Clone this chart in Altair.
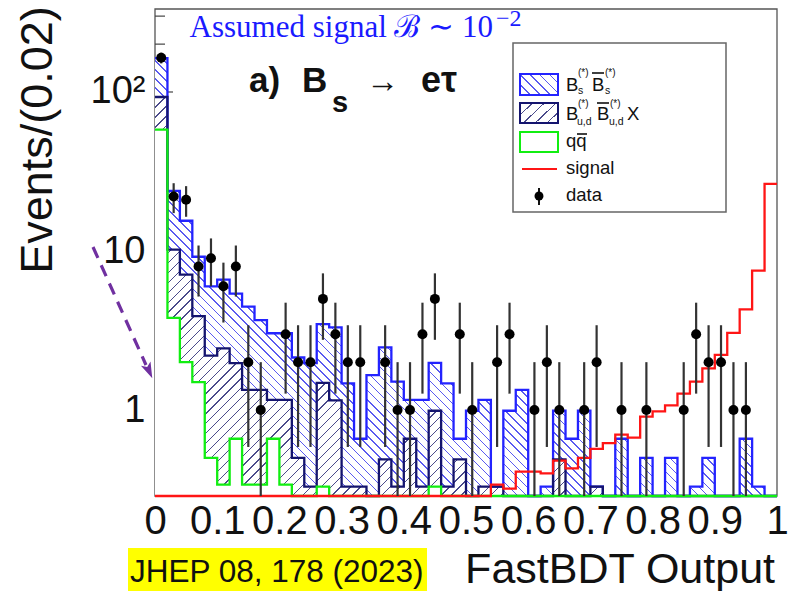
import math
import altair as alt
import pandas as pd

# ---------------- data ----------------
bin_width = 0.02
n_bins = 50
bin_edges = [round(i * bin_width, 2) for i in range(n_bins + 1)]
bin_centers = [round((i + 0.5) * bin_width, 3) for i in range(n_bins)]

data_counts = [164, 22, 21, 8, 9, 6, 8, 2, 1, 0,
               3, 2, 2, 5, 3, 2, 2, 0, 2, 1,
               1, 3, 5, 0, 3, 1, 0, 2, 3, 0,
               1, 2, 1, 0, 1, 2, 0, 1, 0, 1,
               0, 0, 1, 3, 2, 2, 1, 1, 0, 0]

# cumulative stack: qq + BuBd + BsBs
stack_total = [163, 23.9, 15.5, 9.2, 6.0, 6.6, 5.4, 4.47, 3.68, 3.04,
               3.04, 2.14, 1.97, 3.47, 3.31, 1.47, 0.66, 1.66, 2.48, 1.51,
               1.16, 1.16, 1.98, 1.47, 0.66, 0.99, 1.16, 0.33, 0.99, 1.34,
               0, 0.33, 0.99, 0.66, 0.99, 0.33, 0, 0.66, 0, 0.50,
               0, 0.50, 0, 0.33, 0.50, 0, 0, 0.66, 0.33, 0]
# cumulative stack: qq + BuBd
stack_bud = [93, 10.2, 7.1, 3.9, 2.2, 2.44, 1.97, 1.34, 1.34, 1.16,
             1.16, 0.50, 0.33, 1.48, 1.15, 0.33, 0.33, 0, 0.49, 0.33,
             0.66, 0.33, 0.99, 0.33, 0.49, 0, 0.33, 0.33, 0, 0,
             0, 0, 0.49, 0, 0, 0.33, 0, 0, 0, 0,
             0, 0, 0, 0, 0, 0, 0, 0, 0, 0]
# qq only
stack_qq = [58, 3.8, 2.0, 1.5, 0.5, 0.34, 0.66, 0.34, 0.34, 0.66,
            0.34, 0, 0, 0.33, 0, 0, 0, 0, 0, 0,
            0, 0, 0.33, 0, 0, 0, 0, 0, 0, 0,
            0, 0, 0, 0, 0, 0, 0, 0, 0, 0,
            0, 0, 0, 0, 0, 0, 0, 0, 0, 0]
# signal (B = 1e-2)
signal = [0, 0, 0, 0, 0, 0, 0, 0, 0, 0,
          0, 0, 0, 0, 0, 0, 0, 0, 0, 0,
          0, 0, 0, 0, 0, 0, 0, 0.34, 0.32, 0.41,
          0.41, 0.40, 0.48, 0.43, 0.50, 0.57, 0.62, 0.70, 0.67, 0.91,
          0.98, 1.07, 1.27, 1.51, 1.83, 2.22, 3.06, 4.30, 7.52, 26.4]

x_tick_values = [0, 0.1, 0.2, 0.3, 0.4, 0.5, 0.6, 0.7, 0.8, 0.9, 1.0]
y_label_values = [1, 10, 100]
y_minor_ticks = [0.3, 0.4, 0.5, 0.6, 0.7, 0.8, 0.9, 2, 3, 4, 5, 6, 7, 8, 9,
                 20, 30, 40, 50, 60, 70, 80, 90, 200, 300]

# ---------------- layout ----------------
PW, PH = 622, 487
Y_MIN, Y_MAX = 0.288, 332.6
FLOOR = 1e-3

FONT = "Liberation Sans"
BLUE = "#2323ff"
NAVY = "#14146e"
GREEN = "#11ee11"
RED = "#ff1515"
HATCH_BLUE = "#5a5af0"
HATCH_NAVY = "#4a4a8a"

xscale = alt.Scale(domain=[0, 1], nice=False, zero=False)
yscale = alt.Scale(type="log", domain=[Y_MIN, Y_MAX], clamp=True, nice=False)

xaxis = alt.Axis(values=x_tick_values, grid=False, domain=False, ticks=False,
                 labelExpr="datum.value == 0 ? '0' : datum.value == 1 ? '1' : format(datum.value, '.1f')",
                 labelFont=FONT, labelFontSize=40, labelColor="#111", labelPadding=5,
                 labelFlush=False, labelOverlap=False, labelBound=False, title=None)
yaxis = alt.Axis(values=y_label_values, grid=False, domain=False, ticks=False,
                 labelExpr="datum.value == 100 ? '10²' : datum.value == 10 ? '10' : '1'",
                 labelFont=FONT, labelFontSize=38, labelColor="#111", labelPadding=10,
                 labelOverlap=False, labelBound=False, labelFlush=False, title=None)


def X(field):
    return alt.X(field, type="quantitative", scale=xscale, axis=xaxis, title=None)


def Y(field):
    return alt.Y(field, type="quantitative", scale=yscale, axis=yaxis, title=None)


def px_y(v):
    return PH * (math.log10(Y_MAX) - math.log10(v)) / (math.log10(Y_MAX) - math.log10(Y_MIN))


def hatch(color, W, H, direction, period=6.5, lw=1.0):
    L = (W + H) / math.sqrt(2)
    n = max(1, int(L / period))
    f = lw / period
    stops = []
    for k in range(n):
        a, b, c = k / n, (k + f) / n, (k + 1) / n
        stops += [alt.GradientStop(offset=round(a, 6), color=color),
                  alt.GradientStop(offset=round(b, 6), color=color),
                  alt.GradientStop(offset=round(b, 6), color="white"),
                  alt.GradientStop(offset=round(c, 6), color="white")]
    s = (W + H) / (W ** 2 + H ** 2)
    if direction == "back":   # lines like "\"
        x1, y1, x2, y2 = 0, 1, s * W, 1 - s * H
    else:                     # lines like "/"
        x1, y1, x2, y2 = 0, 0, s * W, s * H
    return alt.LinearGradient(gradient="linear", stops=stops,
                              x1=x1, y1=y1, x2=x2, y2=y2)


def step_frame(vals):
    vs = [max(v, FLOOR) for v in vals] + [max(vals[-1], FLOOR)]
    return pd.DataFrame({"x": bin_edges, "v": vs, "base": [FLOOR] * len(bin_edges)})


one = pd.DataFrame({"a": [0]})

layers = []

# frame + y ticks (drawn first, under the stack like ROOT)
layers.append(alt.Chart(one).mark_rect(fill="white", stroke="#555", strokeWidth=1.3).encode(
    x=alt.value(0), x2=alt.value(PW), y=alt.value(0), y2=alt.value(PH)))
ticks_df = pd.DataFrame({"t": [1, 10, 100] + y_minor_ticks,
                         "len": [18] * 3 + [10] * len(y_minor_ticks)})
layers.append(alt.Chart(ticks_df).mark_rule(color="#444", strokeWidth=1.2).encode(
    y=Y("t"), x=alt.value(0), x2=alt.value(18)).transform_filter("datum.len == 18"))
layers.append(alt.Chart(ticks_df).mark_rule(color="#444", strokeWidth=1.2).encode(
    y=Y("t"), x=alt.value(0), x2=alt.value(10)).transform_filter("datum.len == 10"))

# filled stacked areas
tot_df, bud_df, qq_df, sig_df = (step_frame(stack_total), step_frame(stack_bud),
                                 step_frame(stack_qq), step_frame(signal))
H_tot = PH - px_y(max(stack_total))
H_bud = PH - px_y(max(stack_bud))
layers.append(alt.Chart(tot_df).mark_area(interpolate="step-after", strokeWidth=0,
                                          color=hatch(HATCH_BLUE, PW, H_tot, "back", 6.4, 1.0)).encode(
    x=X("x"), y=Y("v"), y2=alt.Y2("base")))
layers.append(alt.Chart(bud_df).mark_area(interpolate="step-after", strokeWidth=0,
                                          color=hatch(HATCH_NAVY, PW, H_bud, "fwd", 7.0, 0.9)).encode(
    x=X("x"), y=Y("v"), y2=alt.Y2("base")))
layers.append(alt.Chart(qq_df).mark_area(interpolate="step-after", strokeWidth=0,
                                         color="white").encode(
    x=X("x"), y=Y("v"), y2=alt.Y2("base")))

# outlines
for df, col in [(tot_df, BLUE), (bud_df, NAVY), (qq_df, GREEN), (sig_df, RED)]:
    layers.append(alt.Chart(df).mark_line(interpolate="step-after", color=col,
                                          strokeWidth=2.3, clip=False).encode(
        x=X("x"), y=Y("v")))

# data points with sqrt(N) errors
pts = pd.DataFrame({"x": bin_centers, "n": data_counts})
pts = pts[pts["n"] > 0].copy()
pts["lo"] = [max(n - math.sqrt(n), FLOOR) for n in pts["n"]]
pts["hi"] = [n + math.sqrt(n) for n in pts["n"]]
layers.append(alt.Chart(pts).mark_rule(color="#333", strokeWidth=2.2, clip=True).encode(
    x=X("x"), y=Y("lo"), y2=alt.Y2("hi")))
layers.append(alt.Chart(pts).mark_circle(color="black", opacity=1, size=100).encode(
    x=X("x"), y=Y("n")))


# ---------------- annotations ----------------
def text(t, x, y, size, color="#111", font=FONT, weight="normal", align="left",
         baseline="alphabetic", angle=0):
    return alt.Chart(one).mark_text(text=t, font=font, fontSize=size, fontWeight=weight,
                                    color=color, align=align, baseline=baseline,
                                    angle=angle).encode(x=alt.value(x), y=alt.value(y))


def rule(x1, y1, x2, y2, color, width, dash=None):
    kw = dict(color=color, strokeWidth=width)
    if dash:
        kw["strokeDash"] = dash
    return alt.Chart(one).mark_rule(**kw).encode(
        x=alt.value(x1), y=alt.value(y1), x2=alt.value(x2), y2=alt.value(y2))


# legend
LX = 365
layers.append(alt.Chart(one).mark_rect(fill="white", stroke="#666", strokeWidth=1.5).encode(
    x=alt.value(358), x2=alt.value(571), y=alt.value(34), y2=alt.value(203)))
layers.append(alt.Chart(one).mark_rect(fill=hatch(HATCH_BLUE, 38, 21, "back", 6.4, 1.0),
                                       stroke=BLUE, strokeWidth=2).encode(
    x=alt.value(LX), x2=alt.value(LX + 38), y=alt.value(65), y2=alt.value(86)))
layers.append(alt.Chart(one).mark_rect(fill=hatch(HATCH_NAVY, 38, 21, "fwd", 7.0, 0.9),
                                       stroke=NAVY, strokeWidth=2).encode(
    x=alt.value(LX), x2=alt.value(LX + 38), y=alt.value(94), y2=alt.value(114)))
layers.append(alt.Chart(one).mark_rect(fill="white", stroke=GREEN, strokeWidth=2).encode(
    x=alt.value(LX), x2=alt.value(LX + 38), y=alt.value(123), y2=alt.value(143)))
layers.append(rule(367, 160, 402, 160, RED, 2))
layers.append(rule(384, 179, 384, 196, "#111", 2))
layers.append(alt.Chart(one).mark_circle(color="black", opacity=1, size=80).encode(
    x=alt.value(384), y=alt.value(187)))

TX = 411
LS = 18.5
layers += [
    text("B", TX, 82, LS), text("(*)", TX + 12, 67, 10), text("s", TX + 12, 85, 10.5),
    text("B", TX + 26, 82, LS), rule(TX + 26, 64, TX + 38, 64, "#111", 1.6),
    text("(*)", TX + 39, 67, 10), text("s", TX + 39, 85, 10.5),
    text("B", TX, 111, LS), text("(*)", TX + 12, 98, 10), text("u,d", TX + 11, 116, 10.5),
    text("B", TX + 31, 111, LS), rule(TX + 31, 94, TX + 43, 94, "#111", 1.6),
    text("(*)", TX + 44, 98, 10), text("u,d", TX + 43, 116, 10.5), text("X", TX + 61, 111, LS),
    text("qq", TX, 138, LS), rule(TX + 11, 125, TX + 21, 125, "#111", 1.6),
    text("signal", TX, 165, LS),
    text("data", TX, 192, LS),
]

# titles
layers += [
    text("Assumed signal ℬ ∼ 10", 338, 28, 31, color="#1a1aff", font="Liberation Serif",
         align="right"),
    text("−2", 341, 17, 24, color="#1a1aff", font="Liberation Serif"),
    text("a)", 94, 83, 35, weight="bold"),
    text("B", 147, 83, 35, weight="bold"),
    text("s", 177, 103, 29, weight="bold"),
    text("→", 211, 83, 33, weight="bold"),
    text("eτ", 266, 83, 36, weight="bold"),
    text("Events/(0.02)", -117, 131, 45, angle=270, align="center", baseline="middle"),
    text("FastBDT Output", 620, 574, 43, align="right"),
]
layers.append(alt.Chart(one).mark_rect(fill="#ffff00").encode(
    x=alt.value(-27), x2=alt.value(272), y=alt.value(539), y2=alt.value(582)))
layers.append(text("JHEP 08, 178 (2023)", -25, 573, 31.5))

# purple dashed arrow
layers.append(rule(-62, 238, -9, 356, "#7030a0", 3.2, dash=[12, 8]))
layers.append(alt.Chart(one).mark_point(shape="M0,-1L0.65,1L0,0.55L-0.65,1Z", filled=True,
                                        color="#7030a0", opacity=1, size=260, angle=156).encode(
    x=alt.value(-6), y=alt.value(362)))

chart = alt.layer(*layers).properties(
    width=PW, height=PH,
    padding={"left": 155, "top": 9, "right": 17, "bottom": 95},
    autosize=alt.AutoSizeParams(type="none"),
    background="white",
).configure_view(stroke=None)

chart.save("out.html", embed_options={"renderer": "svg", "actions": False})
